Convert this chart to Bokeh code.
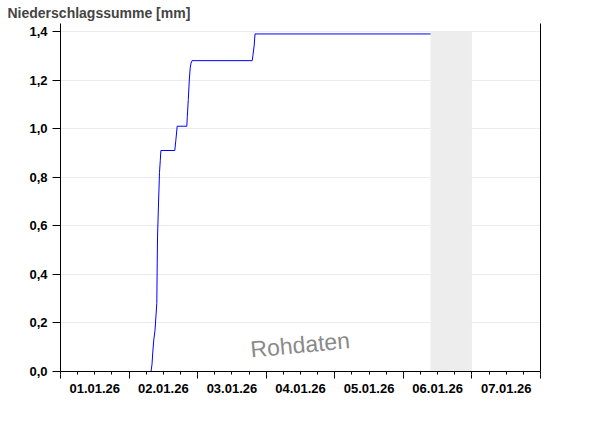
import pandas as pd
from bokeh.plotting import figure
from bokeh.models import (DatetimeAxis, LinearAxis, FixedTicker, DatetimeTickFormatter,
                          CustomJSTickFormatter, Label, Range1d)
from bokeh.embed import file_html
from bokeh.resources import INLINE

# ---- data -------------------------------------------------------------
times = ["2026-01-01 00:00", "2026-01-02 07:41", "2026-01-02 08:02", "2026-01-02 08:18",
         "2026-01-02 08:39", "2026-01-02 09:05", "2026-01-02 09:42", "2026-01-02 09:57",
         "2026-01-02 10:18", "2026-01-02 10:39", "2026-01-02 10:56", "2026-01-02 11:08",
         "2026-01-02 16:00", "2026-01-02 16:21", "2026-01-02 16:51", "2026-01-02 20:13",
         "2026-01-02 20:23", "2026-01-02 20:44", "2026-01-02 21:05", "2026-01-02 21:24",
         "2026-01-02 21:41", "2026-01-02 22:02", "2026-01-03 19:06", "2026-01-03 19:20",
         "2026-01-03 19:46", "2026-01-03 20:05", "2026-01-06 09:30"]
values = [0.0, 0.0, 0.03, 0.08,
          0.13, 0.17, 0.28, 0.55,
          0.69, 0.82, 0.87, 0.91,
          0.91, 0.95, 1.01, 1.01,
          1.05, 1.12, 1.20, 1.25,
          1.27, 1.28, 1.28, 1.30,
          1.34, 1.39, 1.39]

gap_start = "2026-01-06 09:30"
gap_end = "2026-01-07 00:00"
x_start = "2026-01-01 00:00"
x_end = "2026-01-08 00:00"
y_ticks = [0.0, 0.2, 0.4, 0.6, 0.8, 1.0, 1.2, 1.4]
y_max = 1.4
title_text = "Niederschlagssumme [mm]"
watermark = "Rohdaten"


def ms(t):
    return pd.Timestamp(t).value / 1e6


x_ms = [ms(t) for t in times]
day_ticks = [ms(t) for t in pd.date_range(x_start, x_end, freq="D")]
noon_ticks = [ms(t) for t in pd.date_range("2026-01-01 12:00", "2026-01-07 12:00", freq="D")]
six_hour_ticks = [ms(t) for t in pd.date_range(x_start, x_end, freq="6h")]

FONT = "Liberation Sans"

p = figure(width=600, height=426, x_axis_type="datetime",
           x_range=Range1d(ms(x_start), ms(x_end)),
           y_range=Range1d(0, 1.433),
           output_backend="svg", toolbar_location=None,
           min_border_left=60, min_border_right=60, min_border_top=23, min_border_bottom=55)
p.outline_line_color = None
p.background_fill_color = "white"

# title
p.title.text = title_text
p.title.text_font = FONT
p.title.text_font_size = "14px"
p.title.text_font_style = "bold"
p.title.align = "left"
p.title.offset = -53
p.title.standoff = 5

# grey band (no data)
p.quad(left=[ms(gap_start)], right=[ms(gap_end)], bottom=[0], top=[y_max],
       fill_color="#ededed", line_color=None)

# line
p.line(x_ms, values, color="#0000ff", line_width=1)

# grid
p.xgrid.visible = False
p.ygrid.ticker = FixedTicker(ticks=y_ticks)
p.ygrid.grid_line_color = "#ebebeb"

# y axis
ya = p.yaxis[0]
ya.ticker = FixedTicker(ticks=y_ticks)
ya.formatter = CustomJSTickFormatter(code="return tick.toFixed(1).replace('.', ',');")
ya.major_tick_out = 8
ya.major_tick_in = 0
ya.minor_tick_line_color = None
ya.major_label_standoff = 5
ya.major_label_text_font = FONT
ya.major_label_text_font_size = "13px"
ya.major_label_text_font_style = "bold"
ya.major_label_text_color = "black"
ya.axis_line_color = "black"
ya.major_tick_line_color = "black"

# right axis (line only)
ra = LinearAxis(major_tick_line_color=None, minor_tick_line_color=None,
                axis_line_color="black", ticker=FixedTicker(ticks=[], minor_ticks=[]))
p.add_layout(ra, "right")

# bottom axis 1: axis line + short ticks every 6 h, no labels
xa = p.xaxis[0]
xa.ticker = FixedTicker(ticks=[], minor_ticks=six_hour_ticks)
xa.major_tick_out = 3
xa.major_tick_in = 0
xa.minor_tick_out = 3
xa.minor_tick_in = 0
xa.major_label_standoff = 0
xa.axis_line_color = "black"
xa.minor_tick_line_color = "black"

# bottom axis 2: day ticks continue (long) and labels at noon
fmt = "%d.%m.%y"
xa2 = DatetimeAxis(ticker=FixedTicker(ticks=noon_ticks, minor_ticks=day_ticks),
                   formatter=DatetimeTickFormatter(milliseconds=fmt, seconds=fmt, minsec=fmt,
                                                   minutes=fmt, hourmin=fmt, hours=fmt,
                                                   days=fmt, months=fmt, years=fmt),
                   axis_line_color=None, major_tick_line_color=None,
                   minor_tick_line_color="black", minor_tick_out=4, minor_tick_in=0,
                   major_tick_out=0, major_tick_in=0,
                   major_label_standoff=5,
                   major_label_text_font=FONT, major_label_text_font_size="13px",
                   major_label_text_font_style="bold", major_label_text_color="black")
p.add_layout(xa2, "below")

# watermark
p.add_layout(Label(x=ms("2026-01-03 18:30"), y=0.09, text=watermark,
                   angle=0.095, text_font=FONT, text_font_size="23px",
                   text_color="#8a8a8a", text_align="left", text_baseline="alphabetic"))

open("out.html", "w").write(file_html(p, INLINE))
